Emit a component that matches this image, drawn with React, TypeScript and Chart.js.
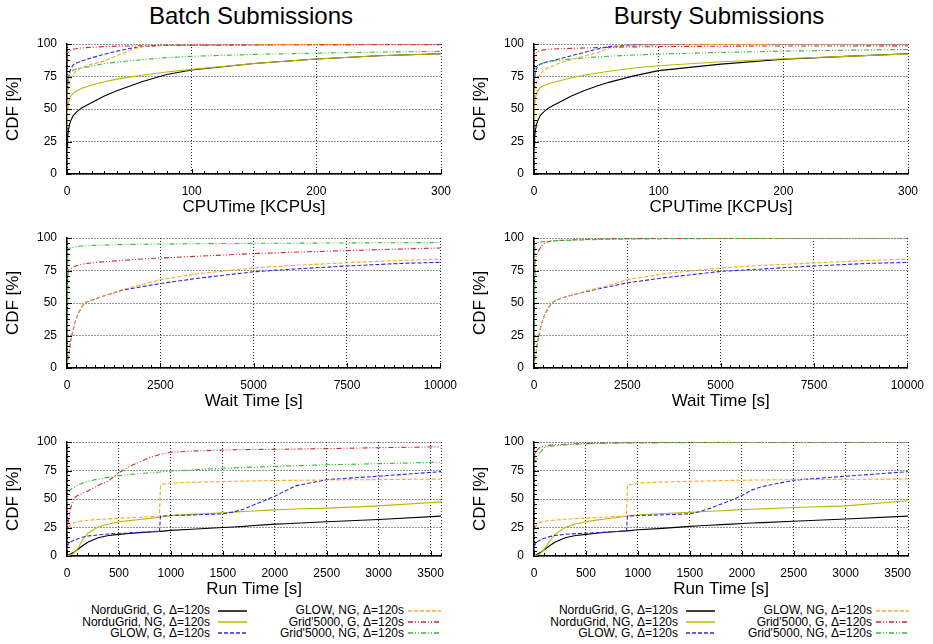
import React, { useEffect, useRef } from "react";
import { Chart, registerables } from "chart.js";

Chart.register(...registerables);

const FONT = "'Liberation Sans', Arial, Helvetica, sans-serif";
Chart.defaults.font.family = FONT;
Chart.defaults.color = "#000";

// ---------- series meta ----------
const SERIES_LABELS = [
  "NorduGrid, G, Δ=120s",
  "NorduGrid, NG, Δ=120s",
  "GLOW, G, Δ=120s",
  "GLOW, NG, Δ=120s",
  "Grid'5000, G, Δ=120s",
  "Grid'5000, NG, Δ=120s",
];
const SERIES_COLORS = ["#000000", "#bdb800", "#2a2ae0", "#ffa726", "#cc2a2a", "#2ec02e"];
const SERIES_DASH: number[][] = [[], [], [4, 2], [4, 2], [5, 2, 1, 2, 1, 2], [5, 2, 1, 2, 1, 2]];

const PANEL_TITLES = ["Batch Submissions", "Bursty Submissions"];
const Y_TICKS = [0, 25, 50, 75, 100];

// ---------- CPU time [KCPUs] ----------
const CPU_X = [0, 0.5, 1, 2, 3, 5, 8, 12, 20, 30, 40, 50, 60, 80, 100, 150, 200, 250, 300];
const CPU_TICKS = [0, 100, 200, 300];

const BATCH_CPU_NORDU_G = [22, 28, 33, 38, 41, 45, 48, 51, 55, 60, 64, 67.5, 71, 76.5, 80, 85, 88.5, 91, 92.5];
const BATCH_CPU_NORDU_NG = [37, 48, 54, 58, 60, 62, 64, 66, 68.5, 71, 73, 74.5, 76, 78.5, 80.5, 85, 88.5, 91, 92.5];
const BATCH_CPU_GLOW_G = [55, 65, 72, 78, 81, 84, 85.5, 87, 89.5, 92, 94.5, 96.5, 98, 99, 99.3, 99.5, 99.7, 99.8, 100];
const BATCH_CPU_GLOW_NG = [55, 62, 66, 70, 73, 77, 80, 82, 84.5, 87, 91, 95, 98, 99, 99.3, 99.5, 99.7, 99.8, 100];
const BATCH_CPU_G5K_G = [88, 92, 93.5, 94.5, 95.2, 96, 96.5, 97, 97.5, 98, 98.3, 98.5, 98.7, 99, 99, 99.2, 99.3, 99.4, 99.5];
const BATCH_CPU_G5K_NG = [60, 68, 72, 76, 78, 80, 81, 81.5, 83, 85, 86, 87, 88, 89.5, 90.5, 92, 93, 93.8, 94.3];

const BURSTY_CPU_NORDU_G = [22, 28, 33, 38, 41, 45, 48, 51, 55, 60, 64, 67.5, 70.5, 75.5, 79.5, 84.5, 88.3, 90.5, 92.5];
const BURSTY_CPU_NORDU_NG = [40, 52, 58, 62, 64, 66.5, 68, 69.5, 71.5, 74, 76, 77.5, 79, 81.5, 83.3, 86.3, 88.6, 90.5, 92.3];
const BURSTY_CPU_GLOW_G = [66, 74, 78, 81, 83, 84.5, 85.5, 86.5, 88.5, 91, 93.5, 96, 98, 99.3, 99.6, 99.8, 99.9, 100, 100];
const BURSTY_CPU_GLOW_NG = [60, 64, 67, 70, 73, 77, 80, 82, 85, 88, 90.5, 93, 97, 99, 99.4, 99.6, 99.8, 99.9, 100];
const BURSTY_CPU_G5K_G = [88, 91, 92.5, 93.5, 94, 95, 95.5, 96, 96.3, 96.6, 96.9, 97.2, 97.5, 97.8, 98, 98.3, 98.5, 98.5, 98.6];
const BURSTY_CPU_G5K_NG = [76, 79, 81, 82.5, 83.5, 84.5, 85.5, 86.5, 87.5, 88.5, 89.3, 90, 90.6, 91.5, 92.3, 93.5, 94.5, 95.2, 95.8];

// ---------- Wait time [s] ----------
const WAIT_X = [0, 25, 50, 100, 200, 300, 400, 500, 700, 1000, 1500, 2000, 2500, 3500, 5000, 6000, 7500, 9000, 10000];
const WAIT_TICKS = [0, 2500, 5000, 7500, 10000];

const BATCH_WAIT_GLOW_G = [2, 6, 10, 21, 34, 42, 47, 50.5, 52.5, 55.5, 60, 62.5, 65, 69, 74, 76, 78.5, 80.5, 81.3];
const BATCH_WAIT_GLOW_NG = [2, 6, 10, 21, 34, 42, 47, 50.5, 52.5, 55.5, 60.5, 64, 68, 72.5, 77, 78.8, 81, 82.8, 83.7];
const BATCH_WAIT_G5K_G = [0, 74, 75.5, 76.5, 78, 79, 79.8, 80.3, 81, 81.8, 82.8, 83.8, 84.6, 86, 88, 89, 90.3, 91.6, 92.3];
const BATCH_WAIT_G5K_NG = [0, 91.5, 92, 92.5, 93, 93.5, 93.8, 94, 94.3, 94.6, 95, 95.2, 95.4, 95.6, 95.9, 96, 96.2, 96.4, 96.5];

const BURSTY_WAIT_GLOW_G = [2, 6, 10, 21, 34, 42, 47, 50.5, 53.5, 56, 59.5, 62.5, 65.5, 69.5, 74.3, 76, 78.5, 80.5, 81.2];
const BURSTY_WAIT_GLOW_NG = [2, 6, 10, 21, 34, 42, 47, 50.5, 53.5, 56, 60, 63.5, 68, 72.5, 77, 78.8, 80.8, 82.8, 83.7];
const BURSTY_WAIT_G5K_G = [0, 82, 85, 89, 94, 96.5, 97.3, 97.8, 98.2, 98.5, 99, 99.3, 99.5, 99.7, 99.8, 99.9, 100, 100, 100];
const BURSTY_WAIT_G5K_NG = [0, 95.5, 96, 96.5, 97, 97.3, 97.6, 97.8, 98, 98.3, 98.7, 99, 99.2, 99.4, 99.6, 99.7, 99.8, 99.9, 100];

// ---------- Run time [s] ----------
const RUN_X = [0, 10, 30, 60, 100, 150, 200, 300, 400, 500, 600, 700, 800, 890, 900, 1000, 1200, 1500, 1600, 1700, 1800, 1900, 2000, 2100, 2200, 2500, 3000, 3600];
const RUN_TICKS = [0, 500, 1000, 1500, 2000, 2500, 3000, 3500];

const BATCH_RUN_NORDU_G = [0, 0.5, 1.5, 3, 5.5, 9, 12, 16, 18, 19, 19.8, 20.5, 21, 21.5, 21.6, 22.5, 23.5, 25, 25.5, 26, 26.8, 27.3, 28, 28.3, 28.7, 30, 32, 35];
const BATCH_RUN_NORDU_NG = [0, 0.2, 0.8, 2, 6, 14, 20, 25.5, 28, 30, 31, 32, 33, 34, 34.2, 35.5, 36.5, 38, 38.5, 39, 39.5, 40, 40.5, 40.8, 41.2, 42, 44, 47.5];
const BATCH_RUN_GLOW_G = [8, 10, 12, 13.5, 15, 16.5, 17.5, 18.5, 19.3, 19.8, 20.3, 20.8, 21.3, 21.8, 35, 35.5, 36, 37, 38.5, 41, 45, 48.5, 52.5, 57, 61.5, 67, 70, 74];
const BATCH_RUN_GLOW_NG = [20, 24, 27, 29, 30, 30.8, 31.3, 32, 32.6, 33, 33.5, 34, 34.5, 35, 62.5, 64, 64.7, 65.3, 65.5, 65.7, 65.8, 66, 66.2, 66.3, 66.4, 66.7, 67, 67.5];
const BATCH_RUN_G5K_G = [18, 28, 40, 50, 53, 55, 57, 62, 66, 73, 78.5, 82.5, 86.5, 89, 89.2, 91, 92, 93, 93.2, 93.3, 93.4, 93.5, 93.6, 93.7, 93.8, 94.2, 95, 95.8];
const BATCH_RUN_G5K_NG = [45, 53, 58, 60, 62, 64, 65.5, 67.5, 69, 70.5, 71.5, 72.3, 73, 73.7, 73.8, 74.5, 75.5, 77, 77.3, 77.6, 78, 78.3, 78.6, 78.9, 79.2, 80, 81, 82.3];

const BURSTY_RUN_NORDU_G = [0, 0.5, 1.5, 3, 5.5, 9, 12, 16, 18, 19, 20, 20.8, 21.5, 22, 22, 23, 24, 26, 26.5, 27, 27.5, 28, 28.5, 29, 29.3, 30.5, 32.5, 35];
const BURSTY_RUN_NORDU_NG = [0, 0.2, 0.8, 2, 6, 13, 19, 25, 28, 30, 31.5, 32.7, 33.8, 34.8, 35, 36, 37, 38.3, 38.8, 39.2, 39.7, 40.2, 40.7, 41, 41.3, 42.5, 44, 48.5];
const BURSTY_RUN_GLOW_G = [8, 10, 12.5, 14, 15.5, 17, 18, 19, 19.6, 20, 20.5, 21, 21.5, 22, 35, 35.5, 36, 37, 39, 42, 45.5, 49, 53, 58, 61, 66.5, 70, 74];
const BURSTY_RUN_GLOW_NG = [20, 25, 28, 29.5, 30.3, 31, 31.5, 32.2, 32.8, 33.2, 33.7, 34.2, 34.6, 35, 62, 64, 64.8, 65.5, 65.7, 65.9, 66.1, 66.3, 66.5, 66.6, 66.7, 67, 67.3, 67.5];
const BURSTY_RUN_G5K_G = [70, 90, 93, 95.5, 96.5, 97, 97.5, 98, 98.5, 98.8, 99, 99.1, 99.2, 99.3, 99.3, 99.4, 99.5, 99.6, 99.6, 99.7, 99.7, 99.8, 99.8, 99.8, 99.8, 99.9, 99.9, 100];
const BURSTY_RUN_G5K_NG = [80, 83, 85, 91, 95, 96.2, 96.8, 97.5, 98, 98.4, 98.7, 98.9, 99.1, 99.2, 99.2, 99.3, 99.4, 99.5, 99.6, 99.6, 99.7, 99.7, 99.8, 99.8, 99.8, 99.9, 100, 100];

// ---------- inner tick marks (gnuplot style) ----------
const innerTicks = {
  id: "innerTicks",
  afterDraw(chart: any, _args: any, opts: any) {
    const { ctx, chartArea } = chart;
    const xs = chart.scales.x;
    const ys = chart.scales.y;
    ctx.save();
    ctx.strokeStyle = "#000";
    ctx.lineWidth = 1;
    ctx.beginPath();
    const nx = Math.round(opts.xMax / opts.xMinor);
    const per = Math.round(opts.xStep / opts.xMinor);
    for (let i = 0; i <= nx; i++) {
      const v = i * opts.xMinor;
      const px = Math.round(xs.getPixelForValue(v)) + 0.5;
      const len = i % per === 0 ? 5 : 3;
      ctx.moveTo(px, chartArea.bottom);
      ctx.lineTo(px, chartArea.bottom - len);
    }
    const ny = Math.round(100 / opts.yMinor);
    const pery = Math.round(25 / opts.yMinor);
    for (let i = 0; i <= ny; i++) {
      const v = i * opts.yMinor;
      const py = Math.round(ys.getPixelForValue(v)) + 0.5;
      const len = i % pery === 0 ? 5 : 3;
      ctx.moveTo(chartArea.left, py);
      ctx.lineTo(chartArea.left + len, py);
    }
    ctx.stroke();
    ctx.restore();
  },
};

type PanelProps = {
  plotLeft: number;
  plotTop: number;
  plotRight: number;
  plotBottom: number;
  xs: number[];
  series: (number[] | null)[];
  xMax: number;
  xTicks: number[];
  xMinor: number;
  xTitle: string;
};

const PAD_L = 67;
const PAD_T = 22;
const PAD_R = 26;
const AX_H = 46;

function Panel(p: PanelProps) {
  const ref = useRef<HTMLCanvasElement>(null);
  const canvasLeft = p.plotLeft - PAD_L;
  const canvasTop = p.plotTop - PAD_T;
  const width = p.plotRight - canvasLeft + PAD_R;
  const height = p.plotBottom - canvasTop + AX_H;

  useEffect(() => {
    if (!ref.current) return;
    const datasets: any[] = [];
    p.series.forEach((ys, i) => {
      if (!ys) return;
      datasets.push({
        label: SERIES_LABELS[i],
        data: p.xs.map((x, j) => ({ x, y: ys[j] })),
        borderColor: SERIES_COLORS[i],
        backgroundColor: SERIES_COLORS[i],
        borderWidth: 1.1,
        borderDash: SERIES_DASH[i],
        pointRadius: 0,
        fill: false,
        tension: 0,
        order: 10 - i,
      });
    });
    const xStep = p.xTicks[1] - p.xTicks[0];
    const chart = new Chart(ref.current, {
      type: "line",
      data: { datasets },
      options: {
        animation: false,
        responsive: false,
        maintainAspectRatio: false,
        events: [],
        layout: { padding: { left: 0, top: PAD_T, right: PAD_R, bottom: 0 } },
        plugins: {
          legend: { display: false },
          tooltip: { enabled: false },
          innerTicks: { xMax: p.xMax, xStep, xMinor: p.xMinor, yMinor: 25 / 6 },
        } as any,
        scales: {
          x: {
            type: "linear",
            min: 0,
            max: p.xMax,
            afterBuildTicks: (s: any) => {
              const t = p.xTicks.map((v) => ({ value: v }));
              if (p.xTicks[p.xTicks.length - 1] !== p.xMax) t.push({ value: p.xMax });
              s.ticks = t;
            },
            afterFit: (s: any) => {
              s.height = AX_H;
            },
            ticks: {
              autoSkip: false,
              maxRotation: 0,
              padding: 10,
              font: { size: 12 },
              color: "#000",
              callback: (v: any) => (p.xTicks.includes(Number(v)) ? String(v) : ""),
            },
            grid: { color: "rgba(0,0,0,0.85)", lineWidth: 1, drawTicks: false },
            border: { display: true, color: "#000", width: 1.5, dash: [1, 2] },
            title: {
              display: true,
              text: p.xTitle,
              font: { size: 17 },
              color: "#000",
              padding: { top: 0, bottom: 2 },
            },
          },
          y: {
            type: "linear",
            min: 0,
            max: 100,
            afterBuildTicks: (s: any) => {
              s.ticks = Y_TICKS.map((v) => ({ value: v }));
            },
            afterFit: (s: any) => {
              s.width = PAD_L;
            },
            ticks: { padding: 10, font: { size: 12 }, color: "#000" },
            grid: { color: "rgba(0,0,0,0.85)", lineWidth: 1, drawTicks: false },
            border: { display: true, color: "#000", width: 1.5, dash: [1, 2] },
            title: {
              display: true,
              text: "CDF [%]",
              font: { size: 17 },
              color: "#000",
              padding: { top: 3, bottom: 0 },
            },
          },
        },
      } as any,
      plugins: [innerTicks as any],
    });
    return () => chart.destroy();
  }, []);

  return (
    <canvas
      ref={ref}
      width={width}
      height={height}
      style={{ position: "absolute", left: canvasLeft, top: canvasTop, width, height }}
    />
  );
}

function LegendBlock({ dx }: { dx: number }) {
  const baselines = [614.5, 626, 637.3];
  const cols = [
    { textRight: 210, x1: 218, x2: 247 },
    { textRight: 404, x1: 408, x2: 441 },
  ];
  const items: React.ReactNode[] = [];
  SERIES_LABELS.forEach((label, i) => {
    const c = cols[Math.floor(i / 3)];
    const b = baselines[i % 3];
    items.push(
      <div
        key={"t" + i}
        style={{
          position: "absolute",
          left: dx + c.textRight - 200,
          width: 200,
          top: b - 10.2,
          fontSize: 12,
          lineHeight: "12px",
          textAlign: "right",
          whiteSpace: "nowrap",
          color: "#000",
        }}
      >
        {label}
      </div>
    );
    const w = c.x2 - c.x1;
    items.push(
      <svg
        key={"l" + i}
        width={w}
        height={6}
        style={{ position: "absolute", left: dx + c.x1, top: b - 4 - 3 }}
      >
        <line
          x1={0}
          y1={3}
          x2={w}
          y2={3}
          stroke={SERIES_COLORS[i]}
          strokeWidth={1.5}
          strokeDasharray={SERIES_DASH[i].length ? SERIES_DASH[i].join(" ") : undefined}
        />
      </svg>
    );
  });
  return <>{items}</>;
}

export default function App() {
  const L = { l: 67, r: 441 };
  const R = { l: 534, r: 908 };
  const rows = [
    { t: 44, b: 174 },
    { t: 238, b: 368 },
    { t: 442, b: 556 },
  ];
  return (
    <div
      style={{
        position: "fixed",
        left: 0,
        top: 0,
        width: 933,
        height: 644,
        background: "#fff",
        fontFamily: FONT,
        overflow: "hidden",
      }}
    >
      {PANEL_TITLES.map((t, i) => (
        <div
          key={t}
          style={{
            position: "absolute",
            left: (i === 0 ? 251 : 719) - 200,
            width: 400,
            top: 4.2,
            fontSize: 24,
            lineHeight: "24px",
            textAlign: "center",
            color: "#000",
            whiteSpace: "nowrap",
          }}
        >
          {t}
        </div>
      ))}

      <Panel plotLeft={L.l} plotRight={L.r} plotTop={rows[0].t} plotBottom={rows[0].b} xs={CPU_X}
        series={[BATCH_CPU_NORDU_G, BATCH_CPU_NORDU_NG, BATCH_CPU_GLOW_G, BATCH_CPU_GLOW_NG, BATCH_CPU_G5K_G, BATCH_CPU_G5K_NG]}
        xMax={300} xTicks={CPU_TICKS} xMinor={10} xTitle="CPUTime [KCPUs]" />
      <Panel plotLeft={R.l} plotRight={R.r} plotTop={rows[0].t} plotBottom={rows[0].b} xs={CPU_X}
        series={[BURSTY_CPU_NORDU_G, BURSTY_CPU_NORDU_NG, BURSTY_CPU_GLOW_G, BURSTY_CPU_GLOW_NG, BURSTY_CPU_G5K_G, BURSTY_CPU_G5K_NG]}
        xMax={300} xTicks={CPU_TICKS} xMinor={10} xTitle="CPUTime [KCPUs]" />

      <Panel plotLeft={L.l} plotRight={L.r} plotTop={rows[1].t} plotBottom={rows[1].b} xs={WAIT_X}
        series={[null, null, BATCH_WAIT_GLOW_G, BATCH_WAIT_GLOW_NG, BATCH_WAIT_G5K_G, BATCH_WAIT_G5K_NG]}
        xMax={10000} xTicks={WAIT_TICKS} xMinor={250} xTitle="Wait Time [s]" />
      <Panel plotLeft={R.l} plotRight={R.r} plotTop={rows[1].t} plotBottom={rows[1].b} xs={WAIT_X}
        series={[null, null, BURSTY_WAIT_GLOW_G, BURSTY_WAIT_GLOW_NG, BURSTY_WAIT_G5K_G, BURSTY_WAIT_G5K_NG]}
        xMax={10000} xTicks={WAIT_TICKS} xMinor={250} xTitle="Wait Time [s]" />

      <Panel plotLeft={L.l} plotRight={L.r} plotTop={rows[2].t} plotBottom={rows[2].b} xs={RUN_X}
        series={[BATCH_RUN_NORDU_G, BATCH_RUN_NORDU_NG, BATCH_RUN_GLOW_G, BATCH_RUN_GLOW_NG, BATCH_RUN_G5K_G, BATCH_RUN_G5K_NG]}
        xMax={3600} xTicks={RUN_TICKS} xMinor={100} xTitle="Run Time [s]" />
      <Panel plotLeft={R.l} plotRight={R.r} plotTop={rows[2].t} plotBottom={rows[2].b} xs={RUN_X}
        series={[BURSTY_RUN_NORDU_G, BURSTY_RUN_NORDU_NG, BURSTY_RUN_GLOW_G, BURSTY_RUN_GLOW_NG, BURSTY_RUN_G5K_G, BURSTY_RUN_G5K_NG]}
        xMax={3600} xTicks={RUN_TICKS} xMinor={100} xTitle="Run Time [s]" />

      <LegendBlock dx={0} />
      <LegendBlock dx={468} />
    </div>
  );
}
